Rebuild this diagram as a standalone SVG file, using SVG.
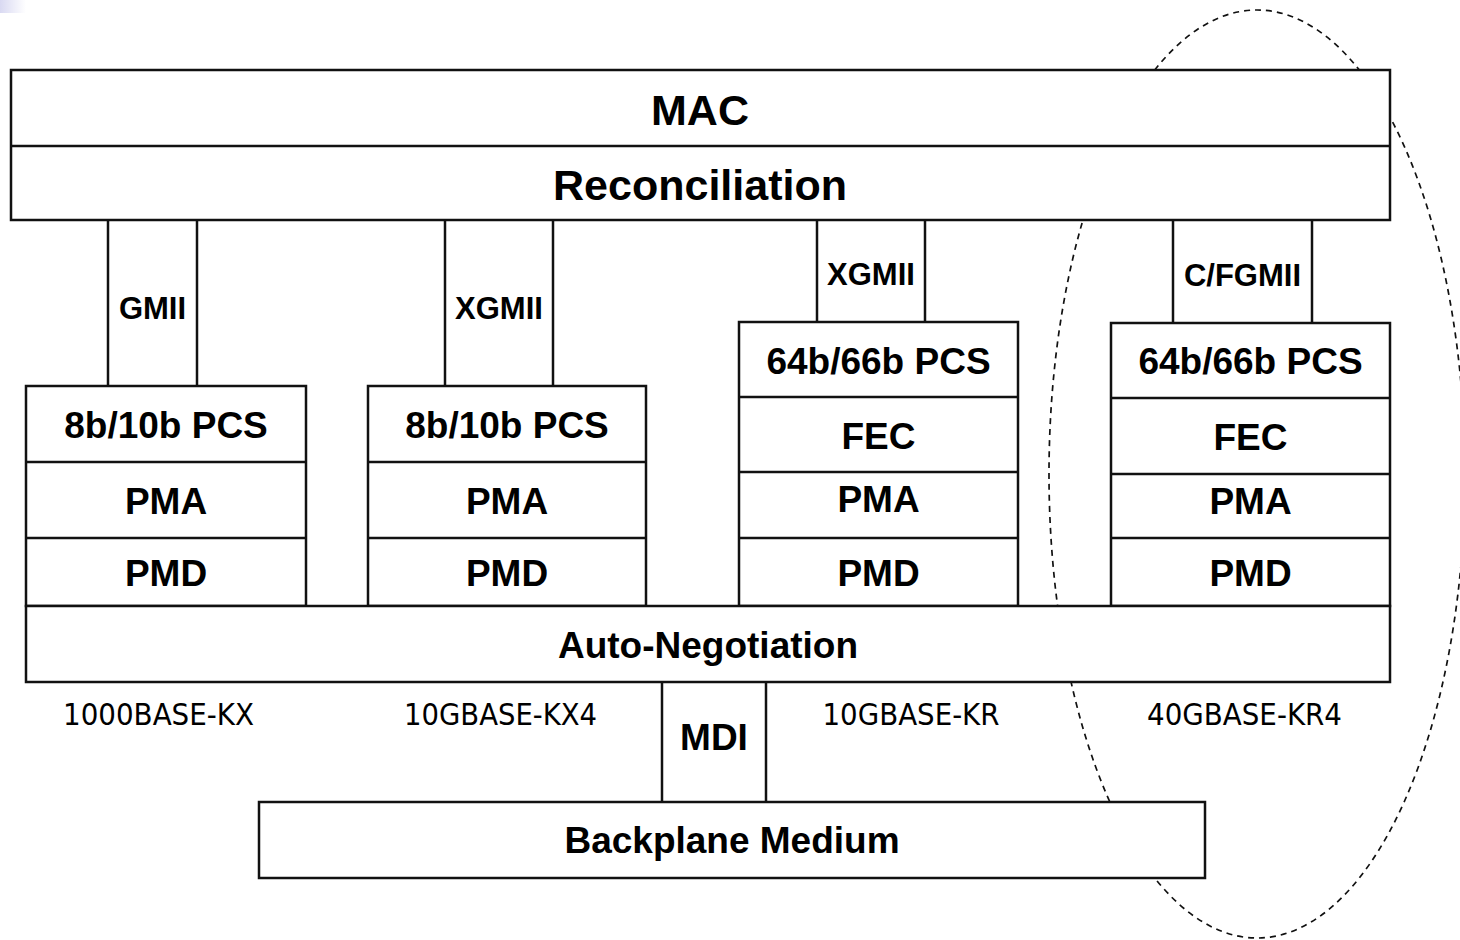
<svg xmlns="http://www.w3.org/2000/svg" width="1460" height="940" viewBox="0 0 1460 940">
  <defs>
    <linearGradient id="cornerShade" x1="0" y1="0" x2="1" y2="0">
      <stop offset="0" stop-color="#d9d9f2"/>
      <stop offset="1" stop-color="#ffffff"/>
    </linearGradient>
    <style>
      .box { fill: #ffffff; stroke: #111111; stroke-width: 2.5; }
      .div { stroke: #111111; stroke-width: 2.5; fill: none; }
      .wire { stroke: #111111; stroke-width: 2.5; fill: none; }
      .big { font-family: "Liberation Sans", Arial, sans-serif; font-weight: bold; font-size: 43px; fill: #000; text-anchor: middle; }
      .lbl { font-family: "Liberation Sans", Arial, sans-serif; font-weight: bold; font-size: 37px; fill: #000; text-anchor: middle; }
      .ifc { font-family: "Liberation Sans", Arial, sans-serif; font-weight: bold; font-size: 31px; fill: #000; text-anchor: middle; }
      .phy { font-family: "DejaVu Sans Condensed", "DejaVu Sans", sans-serif; font-size: 30px; fill: #000; text-anchor: middle; }
      .group40g { fill: none; stroke: #111111; stroke-width: 1.7; stroke-dasharray: 6 5; }
    </style>
  </defs>

  <rect width="1460" height="940" fill="#ffffff"/>
  <rect x="0" y="0" width="26" height="13" fill="url(#cornerShade)"/>

  <!-- 40G grouping outline, drawn first so boxes sit on top of it -->
  <ellipse class="group40g" cx="1257" cy="474" rx="208" ry="464"/>

  <!-- interfaces between layers -->
  <g id="connectors">
    <g id="gmii">
      <line class="wire" x1="108" y1="220" x2="108" y2="386"/>
      <line class="wire" x1="197" y1="220" x2="197" y2="386"/>
      <text class="ifc" x="152.5" y="319">GMII</text>
    </g>
    <g id="xgmii-kx4">
      <line class="wire" x1="445" y1="220" x2="445" y2="386"/>
      <line class="wire" x1="553" y1="220" x2="553" y2="386"/>
      <text class="ifc" x="499" y="319">XGMII</text>
    </g>
    <g id="xgmii-kr">
      <line class="wire" x1="817" y1="220" x2="817" y2="322"/>
      <line class="wire" x1="925" y1="220" x2="925" y2="322"/>
      <text class="ifc" x="871" y="285">XGMII</text>
    </g>
    <g id="cfgmii">
      <line class="wire" x1="1173" y1="220" x2="1173" y2="323"/>
      <line class="wire" x1="1312" y1="220" x2="1312" y2="323"/>
      <text class="ifc" x="1242.5" y="286">C/FGMII</text>
    </g>
    <g id="mdi">
      <line class="wire" x1="662" y1="682" x2="662" y2="802"/>
      <line class="wire" x1="766" y1="682" x2="766" y2="802"/>
      <text class="lbl" x="714" y="750">MDI</text>
    </g>
  </g>

  <!-- MAC + Reconciliation -->
  <g id="mac-rs">
    <rect class="box" x="11" y="70" width="1379" height="150"/>
    <line class="div" x1="11" y1="146" x2="1390" y2="146"/>
    <text class="big" x="700" y="125">MAC</text>
    <text class="big" x="700" y="200">Reconciliation</text>
  </g>

  <!-- 1000BASE-KX stack -->
  <g id="stack-1000base-kx">
    <rect class="box" x="26" y="386" width="280" height="220"/>
    <line class="div" x1="26" y1="462" x2="306" y2="462"/>
    <line class="div" x1="26" y1="538" x2="306" y2="538"/>
    <text class="lbl" x="166" y="438">8b/10b PCS</text>
    <text class="lbl" x="166" y="514">PMA</text>
    <text class="lbl" x="166" y="586">PMD</text>
  </g>

  <!-- 10GBASE-KX4 stack -->
  <g id="stack-10gbase-kx4">
    <rect class="box" x="368" y="386" width="278" height="220"/>
    <line class="div" x1="368" y1="462" x2="646" y2="462"/>
    <line class="div" x1="368" y1="538" x2="646" y2="538"/>
    <text class="lbl" x="507" y="438">8b/10b PCS</text>
    <text class="lbl" x="507" y="514">PMA</text>
    <text class="lbl" x="507" y="586">PMD</text>
  </g>

  <!-- 10GBASE-KR stack -->
  <g id="stack-10gbase-kr">
    <rect class="box" x="739" y="322" width="279" height="284"/>
    <line class="div" x1="739" y1="397" x2="1018" y2="397"/>
    <line class="div" x1="739" y1="472" x2="1018" y2="472"/>
    <line class="div" x1="739" y1="538" x2="1018" y2="538"/>
    <text class="lbl" x="878.5" y="374">64b/66b PCS</text>
    <text class="lbl" x="878.5" y="449">FEC</text>
    <text class="lbl" x="878.5" y="512">PMA</text>
    <text class="lbl" x="878.5" y="586">PMD</text>
  </g>

  <!-- 40GBASE-KR4 stack -->
  <g id="stack-40gbase-kr4">
    <rect class="box" x="1111" y="323" width="279" height="283"/>
    <line class="div" x1="1111" y1="398" x2="1390" y2="398"/>
    <line class="div" x1="1111" y1="474" x2="1390" y2="474"/>
    <line class="div" x1="1111" y1="538" x2="1390" y2="538"/>
    <text class="lbl" x="1250.5" y="374">64b/66b PCS</text>
    <text class="lbl" x="1250.5" y="450">FEC</text>
    <text class="lbl" x="1250.5" y="514">PMA</text>
    <text class="lbl" x="1250.5" y="586">PMD</text>
  </g>

  <!-- Auto-Negotiation -->
  <g id="auto-negotiation">
    <rect class="box" x="26" y="606" width="1364" height="76"/>
    <text class="lbl" x="708" y="658">Auto-Negotiation</text>
  </g>

  <!-- PHY type names -->
  <g id="phy-names">
    <text class="phy" x="158.5" y="725" textLength="191" lengthAdjust="spacingAndGlyphs">1000BASE-KX</text>
    <text class="phy" x="500.5" y="725" textLength="193" lengthAdjust="spacingAndGlyphs">10GBASE-KX4</text>
    <text class="phy" x="911" y="725" textLength="177" lengthAdjust="spacingAndGlyphs">10GBASE-KR</text>
    <text class="phy" x="1244.5" y="725" textLength="195" lengthAdjust="spacingAndGlyphs">40GBASE-KR4</text>
  </g>

  <!-- Backplane Medium -->
  <g id="backplane-medium">
    <rect class="box" x="259" y="802" width="946" height="76"/>
    <text class="lbl" x="732" y="853">Backplane Medium</text>
  </g>
</svg>
